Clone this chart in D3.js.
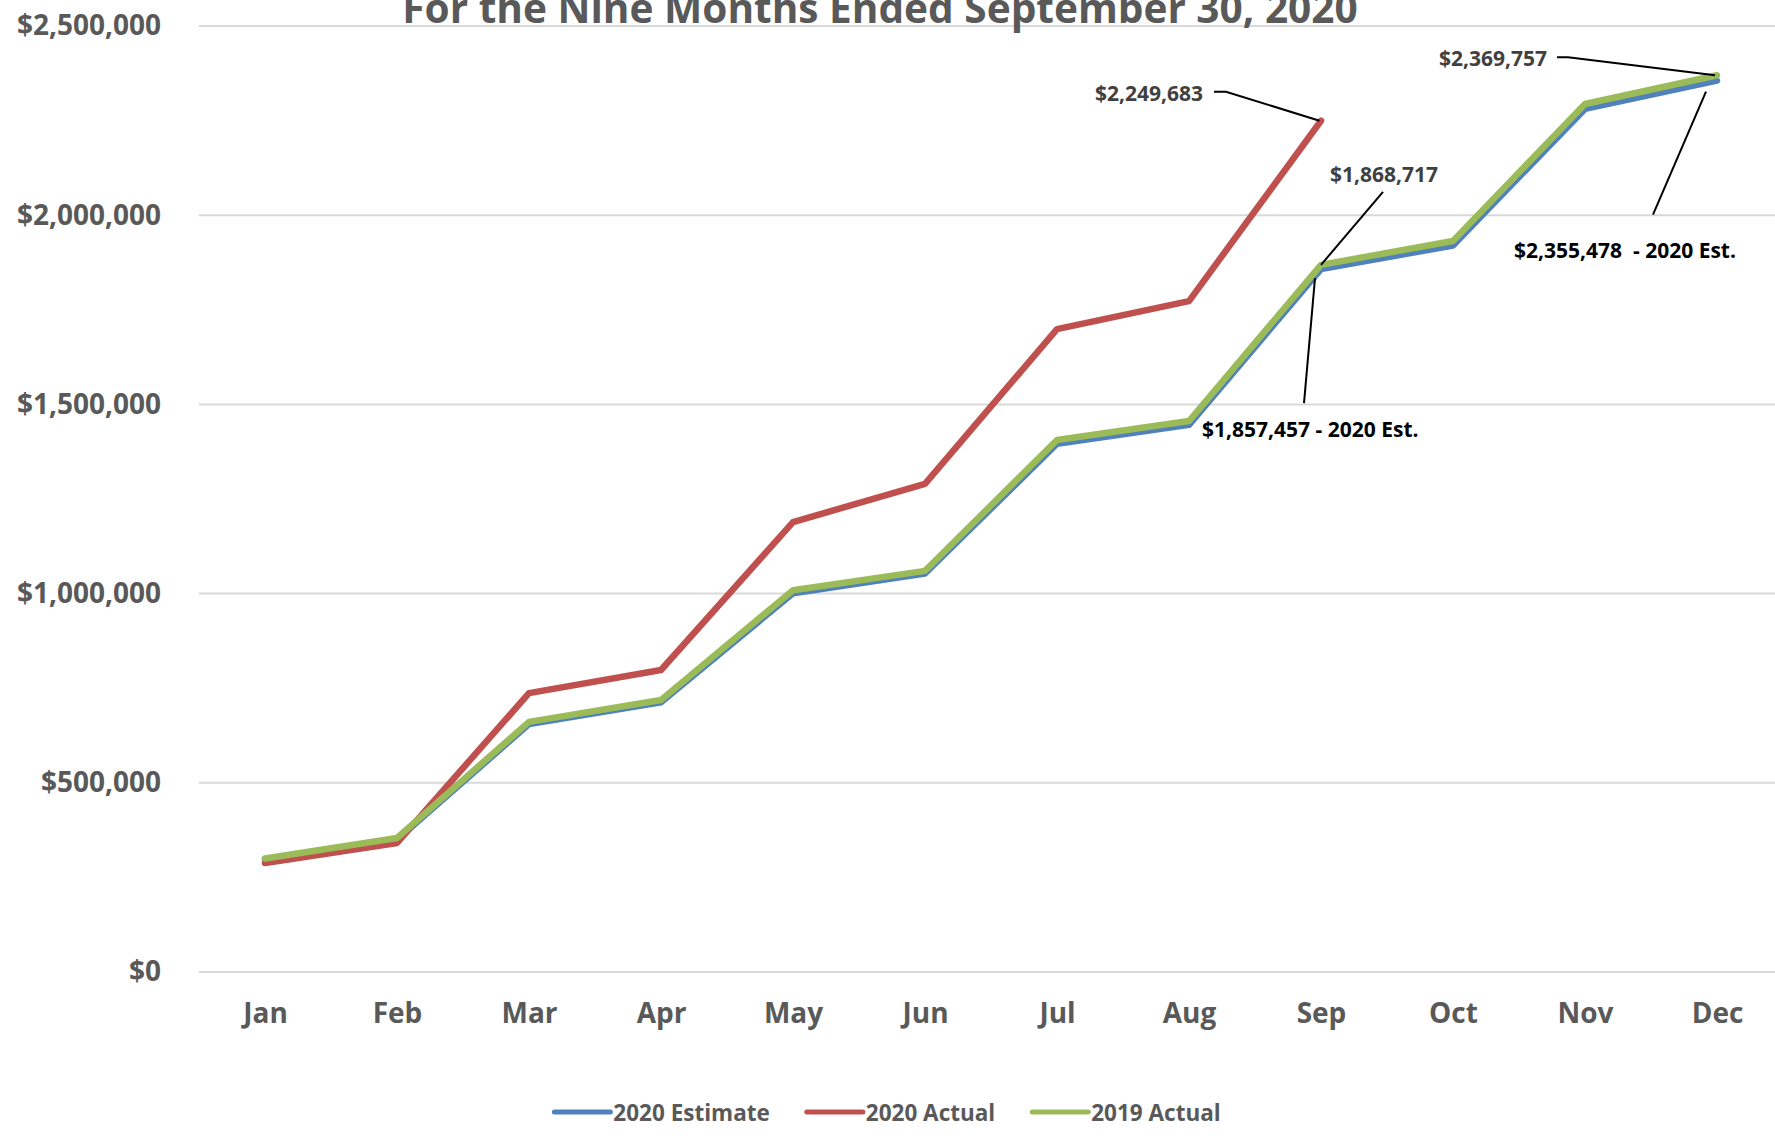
<!DOCTYPE html>
<html>
<head>
<meta charset="utf-8">
<script src="https://cdn.jsdelivr.net/npm/d3@7"></script>
<style>
  html, body { margin: 0; padding: 0; background: #fff; overflow: hidden; }
  svg { display: block; font-family: "Open Sans", "Noto Sans", sans-serif; font-weight: 700; }
</style>
</head>
<body>
<svg id="chart" width="1775" height="1136"></svg>
<script>
// ---- data ----
const months = ["Jan","Feb","Mar","Apr","May","Jun","Jul","Aug","Sep","Oct","Nov","Dec"];
const est2020 = [297000, 350000, 655000, 713000, 1001000, 1053000, 1396000, 1446000, 1857457, 1920000, 2281000, 2355478];
const act2020 = [288000, 341000, 737000, 798000, 1189000, 1290000, 1699000, 1773000, 2249683];
const act2019 = [300000, 354000, 661000, 719000, 1009000, 1060000, 1406000, 1456000, 1868717, 1932000, 2294000, 2369757];
const yTicks = [0, 500000, 1000000, 1500000, 2000000, 2500000];
const seriesNames = ["2020 Estimate", "2020 Actual", "2019 Actual"];
const seriesColors = ["#4F81BD", "#C0504D", "#9BBB59"];
const titleText = "For the Nine Months Ended September 30, 2020";

const W = 1775, H = 1136;
const svg = d3.select("#chart");

const x = d3.scalePoint().domain(months).range([199, 1783]).padding(0.5);
const y = d3.scaleLinear().domain([0, 2500000]).range([972, 26]);
const fmt = v => "$" + d3.format(",")(v);

// gridlines
svg.append("g").selectAll("line").data(yTicks).join("line")
  .attr("x1", 199).attr("x2", W)
  .attr("y1", d => y(d)).attr("y2", d => y(d))
  .attr("stroke", "#D9D9D9").attr("stroke-width", 2);

// y axis
const yAxis = svg.append("g").attr("transform", "translate(199,0)")
  .call(d3.axisLeft(y).tickValues(yTicks).tickFormat(fmt).tickSize(0).tickPadding(38));
yAxis.select(".domain").remove();
yAxis.selectAll("text").attr("fill", "#595959")
  .style("font-family", "'Open Sans', sans-serif").style("font-weight", 700).style("font-size", "28px");

// x axis
const xAxis = svg.append("g").attr("transform", "translate(0,972)")
  .call(d3.axisBottom(x).tickSize(0).tickPadding(31));
xAxis.select(".domain").remove();
xAxis.selectAll("text").attr("fill", "#595959")
  .style("font-family", "'Open Sans', sans-serif").style("font-weight", 700).style("font-size", "28px");

// title (partially cut off at top, as in the original)
svg.append("text").attr("x", 880).attr("y", 23).attr("text-anchor", "middle")
  .attr("fill", "#595959").style("font-size", "40.6px").text(titleText);

// lines
const line = d3.line().x((d, i) => x(months[i])).y(d => y(d));
const seriesData = [est2020, act2020, act2019];
svg.append("g").selectAll("path").data(seriesData).join("path")
  .attr("d", d => line(d))
  .attr("fill", "none")
  .attr("stroke", (d, i) => seriesColors[i])
  .attr("stroke-width", 6.5)
  .attr("stroke-linejoin", "round")
  .attr("stroke-linecap", "round");

// annotations
const ann = svg.append("g");
function annotate(px, py, label, tx, ty, anchor, color, leader) {
  ann.append("polyline")
    .attr("points", leader.map(p => [px + p[0], py + p[1]].join(",")).join(" "))
    .attr("fill", "none").attr("stroke", "#000").attr("stroke-width", 2);
  ann.append("text").attr("x", px + tx).attr("y", py + ty)
    .attr("text-anchor", anchor).attr("fill", color)
    .style("font-size", "21px").style("white-space", "pre")
    .text(label);
}
const sepI = 8, decI = 11;
// 2020 Actual Sep
annotate(x(months[sepI]), y(act2020[sepI]), fmt(act2020[sepI]), -118, -20, "end", "#404040",
  [[-107, -29], [-95, -29], [-1.5, 0]]);
// 2019 Actual Dec
annotate(x(months[decI]), y(act2019[decI]), fmt(act2019[decI]), -170, -9, "end", "#404040",
  [[-160, -18], [-149, -18], [-2, 0]]);
// 2019 Actual Sep
annotate(x(months[sepI]), y(act2019[sepI]), fmt(act2019[sepI]), 63, -83, "middle", "#404040",
  [[62, -73], [0, 0]]);
// 2020 Estimate Sep
annotate(x(months[sepI]), y(est2020[sepI]), fmt(est2020[sepI]) + " - 2020 Est.", -119, 168, "start", "#000",
  [[-17, 134], [-6, 9]]);
// 2020 Estimate Dec
annotate(x(months[decI]), y(est2020[decI]), fmt(est2020[decI]) + "  - 2020 Est.", -203, 177, "start", "#000",
  [[-64, 134], [-11, 11]]);

// legend
const leg = svg.append("g");
let cx = 0;
seriesNames.forEach((name, i) => {
  const g = leg.append("g").attr("transform", `translate(${cx},0)`);
  g.append("line").attr("x1", 0).attr("x2", 56).attr("y1", 1112).attr("y2", 1112)
    .attr("stroke", seriesColors[i]).attr("stroke-width", 5).attr("stroke-linecap", "round");
  const t = g.append("text").attr("x", 59).attr("y", 1121).attr("fill", "#595959")
    .style("font-size", "22.5px").text(name);
  cx += 59 + t.node().getComputedTextLength() + 37;
});
const legW = cx - 37;
leg.attr("transform", `translate(${W / 2 - legW / 2},0)`);
</script>
</body>
</html>
